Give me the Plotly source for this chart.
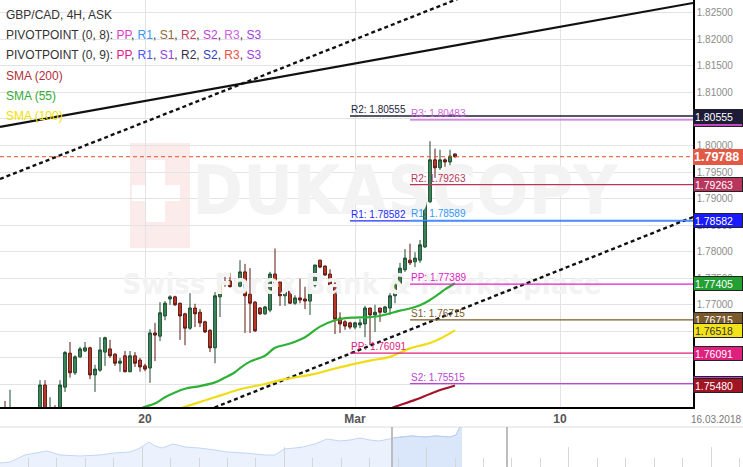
import plotly.graph_objects as go

# ---------------- data ----------------
candle_idx = list(range(-28, 63))  # 4H candles, index 0 = 20 Feb 00:00
opens = [1.7502, 1.7490, 1.7495, 1.7485, 1.7478, 1.7486, 1.7480, 1.7495, 1.7549, 1.7498, 1.7502,
         1.7495, 1.7545, 1.7609, 1.7572, 1.7602, 1.7613, 1.7619, 1.7568, 1.7577, 1.7611, 1.7617,
         1.7607, 1.7590, 1.7604, 1.7574, 1.7604, 1.7596, 1.7585, 1.7581, 1.7647, 1.7641, 1.7679,
         1.7711, 1.7715, 1.7703, 1.7683, 1.7656, 1.7694, 1.7686, 1.7668, 1.7652, 1.7619, 1.7715,
         1.7743, 1.7745, 1.7734, 1.7735, 1.7762, 1.7720, 1.7705, 1.7694, 1.7683, 1.7690, 1.7758,
         1.7743, 1.7717, 1.7726, 1.7703, 1.7713, 1.7711, 1.7707, 1.7737, 1.7784, 1.7773, 1.7758,
         1.7739, 1.7675, 1.7668, 1.7666, 1.7658, 1.7662, 1.7664, 1.7694, 1.7681, 1.7694, 1.7686,
         1.7694, 1.7717, 1.7739, 1.7766, 1.7784, 1.7781, 1.7784, 1.7809, 1.7894, 1.7973, 1.7958,
         1.7973, 1.7969, 1.7984]
highs = [1.7519, 1.7540, 1.7503, 1.7494, 1.7490, 1.7498, 1.7500, 1.7558, 1.7558, 1.7526, 1.7511,
         1.7558, 1.7613, 1.7630, 1.7605, 1.7621, 1.7630, 1.7621, 1.7587, 1.7639, 1.7640, 1.7634,
         1.7609, 1.7600, 1.7613, 1.7613, 1.7611, 1.7600, 1.7589, 1.7654, 1.7666, 1.7705, 1.7707,
         1.7718, 1.7717, 1.7704, 1.7685, 1.7722, 1.7702, 1.7692, 1.7670, 1.7654, 1.7724, 1.7760,
         1.7760, 1.7760, 1.7747, 1.7784, 1.7777, 1.7769, 1.7707, 1.7696, 1.7698, 1.7762, 1.7806,
         1.7743, 1.7724, 1.7727, 1.7718, 1.7749, 1.7734, 1.7752, 1.7775, 1.7785, 1.7774, 1.7767,
         1.7743, 1.7686, 1.7671, 1.7668, 1.7668, 1.7673, 1.7698, 1.7694, 1.7700, 1.7694, 1.7698,
         1.7722, 1.7751, 1.7779, 1.7805, 1.7815, 1.7799, 1.7822, 1.7899, 1.8008, 1.7994, 1.7992,
         1.7976, 1.7992, 1.7985]
lows = [1.7488, 1.7485, 1.7480, 1.7470, 1.7468, 1.7475, 1.7472, 1.7490, 1.7488, 1.7490, 1.7488,
        1.7490, 1.7536, 1.7563, 1.7568, 1.7600, 1.7611, 1.7560, 1.7536, 1.7574, 1.7585, 1.7600,
        1.7585, 1.7574, 1.7573, 1.7573, 1.7583, 1.7574, 1.7575, 1.7553, 1.7594, 1.7632, 1.7671,
        1.7700, 1.7698, 1.7634, 1.7624, 1.7653, 1.7658, 1.7658, 1.7647, 1.7611, 1.7590, 1.7677,
        1.7734, 1.7733, 1.7733, 1.7733, 1.7647, 1.7647, 1.7649, 1.7681, 1.7681, 1.7686, 1.7741,
        1.7698, 1.7698, 1.7702, 1.7700, 1.7703, 1.7692, 1.7681, 1.7733, 1.7769, 1.7755, 1.7722,
        1.7645, 1.7647, 1.7653, 1.7654, 1.7654, 1.7656, 1.7639, 1.7624, 1.7649, 1.7668, 1.7685,
        1.7681, 1.7703, 1.7734, 1.7762, 1.7775, 1.7771, 1.7779, 1.7807, 1.7892, 1.7939, 1.7954,
        1.7960, 1.7960, 1.7977]
closes = [1.7495, 1.7503, 1.7485, 1.7478, 1.7486, 1.7480, 1.7495, 1.7549, 1.7498, 1.7502, 1.7495,
          1.7549, 1.7610, 1.7572, 1.7602, 1.7617, 1.7619, 1.7568, 1.7579, 1.7615, 1.7638, 1.7604,
          1.7590, 1.7594, 1.7574, 1.7604, 1.7590, 1.7583, 1.7579, 1.7647, 1.7643, 1.7685, 1.7703,
          1.7715, 1.7700, 1.7679, 1.7656, 1.7694, 1.7683, 1.7666, 1.7649, 1.7619, 1.7717, 1.7743,
          1.7739, 1.7734, 1.7739, 1.7762, 1.7717, 1.7703, 1.7651, 1.7683, 1.7696, 1.7758, 1.7741,
          1.7717, 1.7724, 1.7703, 1.7713, 1.7709, 1.7707, 1.7739, 1.7775, 1.7771, 1.7756, 1.7737,
          1.7673, 1.7664, 1.7660, 1.7658, 1.7666, 1.7666, 1.7694, 1.7681, 1.7686, 1.7686, 1.7696,
          1.7717, 1.7743, 1.7769, 1.7788, 1.7779, 1.7788, 1.7813, 1.7897, 1.7973, 1.7958, 1.7973,
          1.7969, 1.7980, 1.79788]

sma55_idx = [-1, 0, 2, 4, 6, 8, 11, 14, 16, 18, 19, 21, 24, 26, 29, 32, 35, 38, 40, 42, 45, 47, 49,
             51, 53, 55, 57, 59, 60, 62]
sma55_val = [1.7504, 1.7508, 1.7514, 1.7526, 1.7535, 1.7542, 1.7547, 1.7554, 1.7563, 1.7573, 1.7581,
             1.7593, 1.7604, 1.7619, 1.7627, 1.7639, 1.7659, 1.7671, 1.7675, 1.7676, 1.7677, 1.7679,
             1.7684, 1.7689, 1.7693, 1.7699, 1.7709, 1.7722, 1.7729, 1.77405]
sma100_idx = [7, 8, 11, 15, 19, 24, 28, 34, 38, 41, 45, 49, 51, 53, 55, 57, 59, 62]
sma100_val = [1.7505, 1.7508, 1.7517, 1.7529, 1.7541, 1.7551, 1.7560, 1.7570, 1.7580, 1.7587, 1.7595,
              1.7602, 1.7610, 1.7618, 1.7623, 1.7628, 1.7636, 1.76518]
sma200_idx = [49, 50, 54, 58, 62]
sma200_val = [1.7504, 1.7508, 1.7521, 1.7536, 1.75480]

# pivot levels: label, value, start index, colour
pivot_labels = ["R2", "R3", "R2", "R1", "R1", "PP", "S1", "PP", "S2"]
pivot_values = [1.80555, 1.80483, 1.79263, 1.78582, 1.78589, 1.77389, 1.76715, 1.76091, 1.75515]
pivot_start = [41, 53, 53, 41, 53, 53, 53, 41, 53]
pivot_colors = ["#1e1e3c", "#cc5fdc", "#b8365e", "#1f2dff", "#3399ff", "#e022c8", "#7a5a2c",
                "#e0207e", "#b944d6"]

# trend lines (index, price)
trend_solid_idx = [-29, 109.6]
trend_solid_val = [1.80348, 1.82683]
trend_upper_idx = [-29, 70]
trend_upper_val = [1.79369, 1.83035]
trend_lower_idx = [10, 109.6]
trend_lower_val = [1.74919, 1.78653]

last_price = 1.79788

# right-side value boxes
box_values = [1.80483, 1.80555, 1.79263, 1.78582, 1.77405, 1.76715, 1.76518, 1.76091, 1.75515, 1.75480]
box_colors = ["#c447c8", "#1c1c38", "#b8365e", "#1a1aff", "#22a032", "#7a5a2c", "#f2e21a",
              "#e0207e", "#b944d6", "#a01424"]
box_text_colors = ["white", "white", "white", "white", "white", "white", "#333333", "white",
                   "white", "white"]

x_tick_idx = [0, 42, 83]
x_tick_text = ["20", "Mar", "10"]

# navigator overview series
nav_x = [0, 10, 25, 40, 47, 60, 80, 100, 114, 130, 140, 149, 155, 162, 173, 185, 199, 215, 227, 245,
         265, 275, 284, 295, 303, 315, 327, 340, 350, 360, 370, 379, 393, 400, 412, 425, 436, 450,
         456, 460, 462]
nav_v = [4, 5, 12, 15, 16, 12, 11, 12, 14, 15, 19, 25, 21, 19, 23, 20, 19, 17, 15, 14,
         12, 12, 18, 19, 20, 23, 28, 26, 27, 29, 27, 26, 29, 30, 31, 30, 31, 30,
         32, 40, 40]

# ---------------- geometry helpers (layout only) ----------------
W, H = 743, 467
PLOT_R, PLOT_B = 693, 407
K_LEFT, K_RIGHT = -29.0, 109.6
P_BOT, P_TOP = 1.75076, 1.82739


def px_x(px):
    return px / W


def px_y(py):
    return 1 - py / H


def data_x(px):
    return K_LEFT + px / PLOT_R * (K_RIGHT - K_LEFT)


def data_y(py):
    return P_TOP - py / PLOT_B * (P_TOP - P_BOT)


FONT = "Liberation Sans, Arial, sans-serif"
NARROW = "Liberation Sans Narrow, Arial Narrow, DejaVu Sans Condensed, sans-serif"

fig = go.Figure()

# watermark (drawn first, under everything)
fig.add_trace(go.Scatter(
    x=[data_x(405), data_x(362)], y=[data_y(197), data_y(287)], mode="text",
    text=["DUKASCOPY", "Swiss Forex Bank & Marketplace"],
    textfont=dict(family=NARROW, size=[68, 29], color="#f3f3f3", weight="bold"),
    hoverinfo="skip", showlegend=False))

# candles
fig.add_trace(go.Candlestick(
    x=candle_idx, open=opens, high=highs, low=lows, close=closes,
    increasing=dict(fillcolor="#3d8a5c", line=dict(color="#1c4a2e", width=1)),
    decreasing=dict(fillcolor="#c53a2a", line=dict(color="#5a160f", width=1)),
    whiskerwidth=0, hoverinfo="skip", showlegend=False))

# trend lines
fig.add_trace(go.Scatter(x=trend_solid_idx, y=trend_solid_val, mode="lines",
                         line=dict(color="#111111", width=2.2), hoverinfo="skip", showlegend=False))
for tx, ty in ((trend_upper_idx, trend_upper_val), (trend_lower_idx, trend_lower_val)):
    fig.add_trace(go.Scatter(x=tx, y=ty, mode="lines",
                             line=dict(color="#111111", width=2.4, dash="4px,3px"),
                             hoverinfo="skip", showlegend=False))

# SMAs
for sx, sy, col in ((sma100_idx, sma100_val, "#f0dc12"), (sma55_idx, sma55_val, "#2fb036"),
                    (sma200_idx, sma200_val, "#a3142a")):
    fig.add_trace(go.Scatter(x=sx, y=sy, mode="lines", line=dict(color=col, width=2.2, shape="spline"),
                             hoverinfo="skip", showlegend=False))

# pivot lines
for lab, val, st, col in zip(pivot_labels, pivot_values, pivot_start, pivot_colors):
    fig.add_trace(go.Scatter(x=[st, K_RIGHT], y=[val, val], mode="lines",
                             line=dict(color=col, width=1.3), hoverinfo="skip", showlegend=False))

# current price dashed line
fig.add_trace(go.Scatter(x=[K_LEFT, K_RIGHT], y=[last_price, last_price], mode="lines",
                         line=dict(color="#e0502a", width=1, dash="4px,3px"),
                         hoverinfo="skip", showlegend=False))

# navigator
fig.add_trace(go.Scatter(x=nav_x, y=nav_v, mode="lines", fill="tozeroy", fillcolor="#ebf2fd",
                         line=dict(color="#c3d6f4", width=1), xaxis="x2", yaxis="y2",
                         hoverinfo="skip", showlegend=False))
sel_x = [a for a in nav_x if a >= 392]
sel_v = [b for a, b in zip(nav_x, nav_v) if a >= 392]
fig.add_trace(go.Scatter(x=sel_x, y=sel_v, mode="lines", fill="tozeroy", fillcolor="#dae6fa",
                         line=dict(color="#b4cbf2", width=1), xaxis="x2", yaxis="y2",
                         hoverinfo="skip", showlegend=False))

annotations = []
legend_lines = [
    "GBP/CAD, 4H, ASK",
    "PIVOTPOINT (0, 8): <span style='color:#e03cc8'>PP</span>, <span style='color:#3399ff'>R1</span>, "
    "<span style='color:#8b6a3a'>S1</span>, <span style='color:#c0405e'>R2</span>, "
    "<span style='color:#c040e0'>S2</span>, <span style='color:#d060e8'>R3</span>, "
    "<span style='color:#a040e0'>S3</span>",
    "PIVOTPOINT (0, 9): <span style='color:#e0208a'>PP</span>, <span style='color:#4a55ff'>R1</span>, "
    "<span style='color:#9040e0'>S1</span>, <span style='color:#303050'>R2</span>, "
    "<span style='color:#3040c0'>S2</span>, <span style='color:#f05040'>R3</span>, "
    "<span style='color:#a040e0'>S3</span>",
    "<span style='color:#b0303a'>SMA (200)</span>",
    "<span style='color:#33aa33'>SMA (55)</span>",
    "<span style='color:#f2e000'>SMA (100)</span>",
]
for i, t in enumerate(legend_lines):
    annotations.append(dict(text=t, xref="paper", yref="paper", x=px_x(4), y=px_y(15 + 20.2 * i),
                            xanchor="left", yanchor="middle", showarrow=False,
                            font=dict(family=FONT, size=12, color="#333333")))

for lab, val, st, col in zip(pivot_labels, pivot_values, pivot_start, pivot_colors):
    annotations.append(dict(text=f"{lab}: {val:.5f}", x=st, y=val, xref="x", yref="y",
                            xanchor="left", yanchor="bottom", showarrow=False, borderpad=0,
                            font=dict(family=FONT, size=10, color=col)))

for val, bg, tc in zip(box_values, box_colors, box_text_colors):
    annotations.append(dict(text=f"{val:.5f}", x=px_x(PLOT_R), y=val, xref="paper", yref="y",
                            xanchor="left", yanchor="middle", showarrow=False, align="left",
                            width=46, height=11, bgcolor=bg, bordercolor="#222222", borderwidth=1,
                            borderpad=1, font=dict(family=FONT, size=10.5, color=tc)))
annotations.append(dict(text=f"<b>{last_price:.5f}</b>", x=px_x(PLOT_R), y=last_price, xref="paper",
                        yref="y", xanchor="left", yanchor="middle", showarrow=False, align="left",
                        width=48, height=14, bgcolor="#e25a46", bordercolor="#e25a46", borderwidth=1,
                        borderpad=0, font=dict(family=FONT, size=12.5, color="white")))
annotations.append(dict(text="16.03.2018", xref="paper", yref="paper", x=px_x(716), y=px_y(419),
                        xanchor="center", yanchor="middle", showarrow=False,
                        font=dict(family=FONT, size=10, color="#777777")))

shapes = [
    dict(type="rect", xref="paper", yref="paper", x0=px_x(130), x1=px_x(190), y0=px_y(248), y1=px_y(143),
         fillcolor="#fcebeb", line=dict(width=0), layer="below"),
    dict(type="rect", xref="paper", yref="paper", x0=px_x(146), x1=px_x(165), y0=px_y(222), y1=px_y(160),
         fillcolor="#ffffff", line=dict(width=0), layer="below"),
    dict(type="rect", xref="paper", yref="paper", x0=px_x(132), x1=px_x(180), y0=px_y(201), y1=px_y(185),
         fillcolor="#ffffff", line=dict(width=0), layer="below"),
    dict(type="line", xref="paper", yref="paper", x0=0, x1=1, y0=px_y(427), y1=px_y(427),
         line=dict(color="#dcdcdc", width=1)),
    dict(type="line", xref="x2", yref="paper", x0=392, x1=392, y0=0, y1=px_y(427),
         line=dict(color="#bdbdbd", width=2)),
    dict(type="line", xref="x2", yref="paper", x0=507, x1=507, y0=0, y1=px_y(427),
         line=dict(color="#bdbdbd", width=2)),
]

fig.update_layout(
    width=W, height=H, margin=dict(l=0, r=0, t=0, b=0),
    paper_bgcolor="white", plot_bgcolor="white", boxgap=0.2,
    font=dict(family=FONT),
    xaxis=dict(domain=[0, px_x(PLOT_R)], range=[K_LEFT, K_RIGHT], anchor="y",
               tickvals=x_tick_idx, ticktext=[f"<b>{t}</b>" for t in x_tick_text],
               tickfont=dict(family=FONT, size=12, color="#555555"),
               showgrid=True, gridcolor="#e3e3e3", gridwidth=1, zeroline=False,
               showline=True, linecolor="#000000", linewidth=1.5, ticks="",
               rangeslider=dict(visible=False), fixedrange=True),
    yaxis=dict(domain=[px_y(PLOT_B), 1], range=[P_BOT, P_TOP], anchor="x", side="right",
               tick0=1.75, dtick=0.005, tickformat=".5f",
               tickfont=dict(family=FONT, size=10, color="#8c8c8c"),
               showgrid=True, gridcolor="#e3e3e3", gridwidth=1, zeroline=False,
               showline=True, linecolor="#000000", linewidth=1.5, ticks="", fixedrange=True),
    xaxis2=dict(domain=[0, 1], range=[0, W], anchor="y2", showgrid=False, zeroline=False,
                showticklabels=False, ticks="inside", tick0=0, dtick=142.2, ticklen=20,
                tickcolor="#d6d6d6", tickwidth=1,
                minor=dict(ticks="inside", dtick=28.44, tick0=0, ticklen=9, tickcolor="#d6d6d6"),
                showline=False, fixedrange=True),
    yaxis2=dict(domain=[0, px_y(427)], range=[0, 40], anchor="x2", showgrid=False, zeroline=False,
                showticklabels=False, showline=False, fixedrange=True),
    annotations=annotations, shapes=shapes, showlegend=False,
)

fig.write_html("out.html", config={"displayModeBar": False},
               post_script="document.body.style.margin='0';")
